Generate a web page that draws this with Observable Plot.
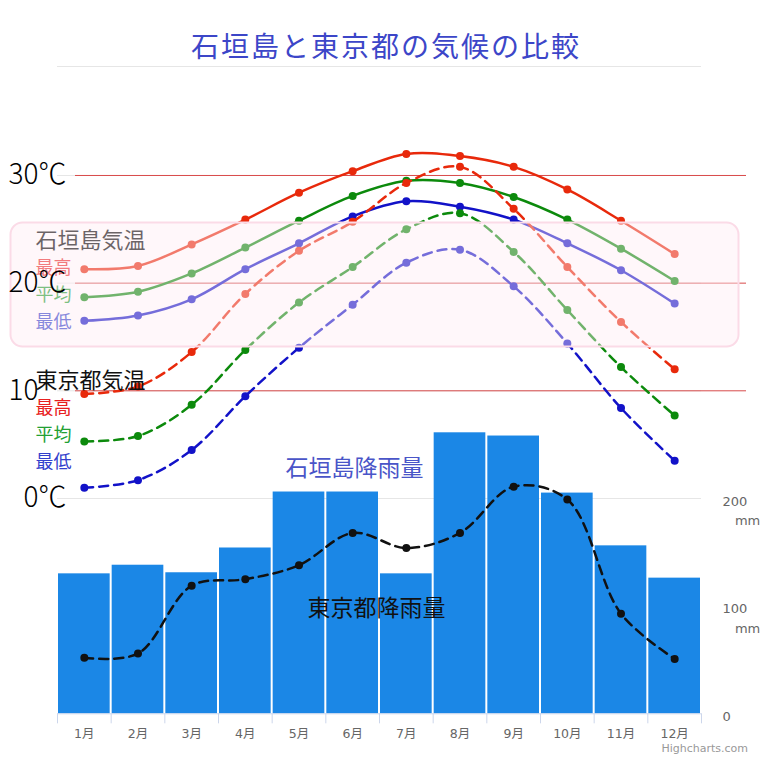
<!DOCTYPE html>
<html><head><meta charset="utf-8">
<script src="https://cdn.jsdelivr.net/npm/d3@7"></script>
<script src="https://cdn.jsdelivr.net/npm/@observablehq/plot@0.6"></script>
<style>
body{margin:0;background:#fff;font-family:"Noto Sans CJK JP",sans-serif;}
#wrap{position:relative;width:760px;height:760px;overflow:hidden;background:#fff;}
#title{position:absolute;left:0;top:25px;width:760px;padding-left:12px;box-sizing:border-box;text-align:center;font-size:28px;line-height:40px;letter-spacing:2px;color:#3c46c8;font-family:"Noto Sans CJK JP",sans-serif;}
#rule{position:absolute;left:57px;top:66px;width:644px;height:1px;background:#e6e6e6;}
#chart{position:absolute;left:0;top:70px;}
#credit{position:absolute;right:12px;top:742px;font-size:11px;line-height:14px;color:#999;font-family:"DejaVu Sans",sans-serif;}
</style></head>
<body>
<div id="wrap">
  <div id="title">石垣島と東京都の気候の比較</div>
  <div id="rule"></div>
  <div id="chart"></div>
  <div id="credit">Highcharts.com</div>
</div>
<script>
// ---- data ----
const months = ["1月","2月","3月","4月","5月","6月","7月","8月","9月","10月","11月","12月"];
const ishigakiMax  = [21.3, 21.6, 23.6, 25.9, 28.4, 30.4, 32.0, 31.8, 30.8, 28.7, 25.8, 22.7];
const ishigakiMean = [18.7, 19.2, 20.9, 23.3, 25.8, 28.1, 29.5, 29.3, 28.0, 25.9, 23.2, 20.2];
const ishigakiMin  = [16.5, 17.0, 18.5, 21.3, 23.7, 26.2, 27.6, 27.1, 25.9, 23.7, 21.2, 18.1];
const tokyoMax  = [9.7, 10.4, 13.6, 19.0, 23.0, 25.7, 29.3, 30.8, 26.9, 21.5, 16.4, 12.0];
const tokyoMean = [5.3, 5.8, 8.7, 13.8, 18.2, 21.5, 25.0, 26.5, 22.9, 17.5, 12.2, 7.7];
const tokyoMin  = [1.0, 1.7, 4.5, 9.5, 14.0, 18.0, 21.9, 23.1, 19.7, 14.4, 8.4, 3.5];
const ishigakiRain = [130, 138, 131, 154, 206, 206, 130, 261, 258, 205, 156, 126];
const tokyoRain    = [52, 56, 119, 125, 138, 168, 154, 168, 211, 199, 93, 51];
const tempTicks = [0, 10, 20, 30];
const tempTickLabels = ["0℃", "10\u3000", "20℃", "30℃"];
const rainTicks = [0, 100, 200];
const rainTickLabels = ["0", "100\n\u00a0\u00a0\u00a0mm", "200\n\u00a0\u00a0\u00a0mm"];

// ---- layout ----
const RED = "#e8290b", GREEN = "#0c8a0c", BLUE = "#1212c8";
const rainToY = mm => mm / 10 - 20;   // right axis: 200mm aligned with 0℃
const W = 760, H = 690, mL = 57, mR = 59, mT = 18.85, mB = 46.7;
const bw = (W - mL - mR) / months.length;

const series = [
  {v: ishigakiMax, c: RED, dash: null},
  {v: ishigakiMean, c: GREEN, dash: null},
  {v: ishigakiMin, c: BLUE, dash: null},
  {v: tokyoMax, c: RED, dash: "9,6"},
  {v: tokyoMean, c: GREEN, dash: "9,6"},
  {v: tokyoMin, c: BLUE, dash: "9,6"}
];

const font = "'Noto Sans CJK JP', sans-serif";
const label = (text, color, size, x, y) => Plot.text([text], {
  frameAnchor: "top-left", dx: x - mL, dy: y - 70 - mT, text: d => d,
  fill: color, fontSize: size, textAnchor: "start", lineAnchor: "middle", fontFamily: font
});

const lineMarks = [];
for (const s of series) {
  lineMarks.push(Plot.line(months, {x: d => d, y: (d, i) => s.v[i], curve: "catmull-rom",
    stroke: s.c, strokeWidth: 2.5, strokeDasharray: s.dash}));
  lineMarks.push(Plot.dot(months, {x: d => d, y: (d, i) => s.v[i], r: 4, fill: s.c}));
}

const chart = Plot.plot({
  width: W, height: H, marginLeft: mL, marginRight: mR, marginTop: mT, marginBottom: mB,
  x: {type: "band", domain: months, padding: 0, round: false},
  y: {domain: [-20, 38]},
  style: {fontFamily: font, background: "transparent", overflow: "visible"},
  marks: [
    Plot.ruleY(tempTicks, {stroke: "#e6e6e6"}),
    Plot.ruleY(tempTicks.filter(d => d > 0), {stroke: "#d84a4a", strokeWidth: 1, insetLeft: 18, insetRight: -45}),
    Plot.barY(months, {x: d => d, y1: -20, y2: (d, i) => rainToY(ishigakiRain[i]), fill: "#1b87e6", insetLeft: 1, insetRight: 1}),
    Plot.ruleY([-20], {stroke: "#ccd6eb"}),
    Plot.ruleX(months, {x: d => d, dx: -bw / 2, y1: -20, y2: -20.93, stroke: "#ccd6eb"}),
    Plot.ruleX([months[months.length - 1]], {x: d => d, dx: bw / 2, y1: -20, y2: -20.93, stroke: "#ccd6eb"}),
    Plot.line(months, {x: d => d, y: (d, i) => rainToY(tokyoRain[i]), curve: "catmull-rom", stroke: "#111", strokeWidth: 2.5, strokeDasharray: "9,6"}),
    Plot.dot(months, {x: d => d, y: (d, i) => rainToY(tokyoRain[i]), r: 4, fill: "#111"}),
    ...lineMarks,
    label("石垣島気温", "#000", 22, 35, 240),
    label("最高", "#e82828", 18, 35, 268),
    label("平均", "#20a030", 18, 35, 295),
    label("最低", "#3040cc", 18, 35, 322),
    Plot.frame({fill: "rgb(255,236,243)", fillOpacity: 0.42, stroke: "#fbdbe7", strokeWidth: 2, rx: 12,
      insetLeft: 10 - mL, insetRight: 701 - 738, insetTop: 222 - 70 - mT, insetBottom: (H - mB + 70) - 346}),
    label("東京都気温", "#111", 22, 35, 380),
    label("最高", "#e82020", 18, 35, 408),
    label("平均", "#22a033", 18, 35, 435),
    label("最低", "#3340cc", 18, 35, 462),
    label("石垣島降雨量", "#4a55c8", 23, 285, 468),
    label("東京都降雨量", "#111", 23, 307, 608),
    Plot.axisY({anchor: "left", ticks: tempTicks, tickFormat: (d, i) => tempTickLabels[tempTicks.indexOf(d)],
      tickSize: 0, tickPadding: 0, dx: 9, fontSize: 28, fill: "#000", label: null, fontFamily: font, fontWeight: 300}),
    Plot.text(rainTicks, {y: d => rainToY(d), text: (d, i) => rainTickLabels[i], frameAnchor: "right",
      dx: 21, dy: -6.5, textAnchor: "start", lineAnchor: "top", lineHeight: 1.5, fontSize: 13, fill: "#666",
      fontFamily: "'DejaVu Sans', sans-serif"}),
    Plot.axisX({anchor: "bottom", tickSize: 0, tickPadding: 15, fontSize: 12.5, fill: "#666", label: null,
      fontFamily: "'DejaVu Sans', 'Noto Sans CJK JP', sans-serif"})
  ]
});
document.getElementById("chart").appendChild(chart);
</script>
</body></html>
